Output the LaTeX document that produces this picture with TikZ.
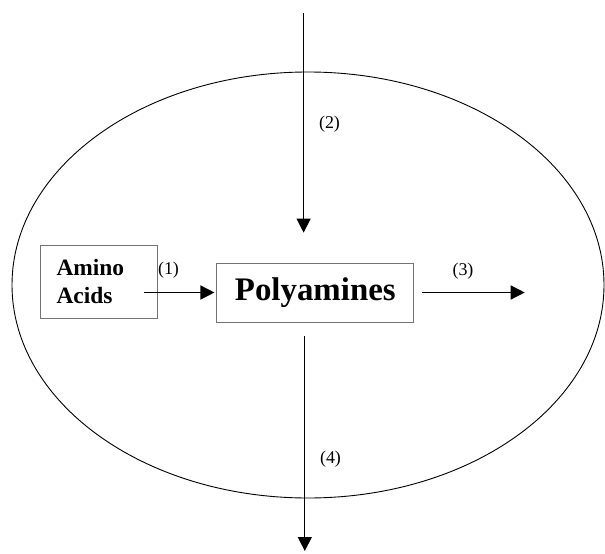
\documentclass[tikz,border=0pt]{standalone}
\usepackage{fontspec}
\setmainfont{Liberation Serif}
\usetikzlibrary{arrows.meta,calc}
\tikzset{
    >={Triangle[length=14bp,width=14bp]},
    box/.style={draw=black!55,line width=0.7bp},
    flow/.style={->,line width=1.4bp},
    num/.style={font=\fontsize{18}{20}\selectfont},
}

\begin{document}
\begin{tikzpicture}[x=1bp,y=-1bp]
    \useasboundingbox (0,0) rectangle (605,554);
    \draw[line width=0.9bp] (308,285) ellipse [x radius=296,y radius=213];

    \node[box,minimum width=117bp,minimum height=73bp,text width=85bp,align=left,inner xsep=16bp,
          font=\bfseries\fontsize{23.5}{28}\selectfont] (amino) at (99,281.5) {Amino\\Acids};
    \node[box,minimum width=197bp,minimum height=59bp,
          font=\bfseries\fontsize{33}{36}\selectfont] (poly) at (315.3,292.5) {Polyamines};

    \coordinate (src) at (303.6,13.4);
    \coordinate (sink) at (304.8,551);
    \coordinate (out) at (524.7,292.5);

    \draw[flow,shorten >=2bp] ([shift={(-13.5,11)}]amino.east) -- (poly.west);
    \draw[flow,line width=1.1bp,shorten >=30bp] (src) -- (src |- poly.north);
    \draw[flow,shorten <=7.5bp] (poly.east) -- (out);
    \draw[flow,line width=1.1bp,shorten <=14bp] (sink |- poly.south) -- (sink);

    \node[num] (n1) at (168.5,270) {(1)};
    \node[num] (n2) at (329.5,124) {(2)};
    \node[num] (n3) at (463,271) {(3)};
    \node[num] (n4) at (330.5,459) {(4)};
\end{tikzpicture}
\end{document}
